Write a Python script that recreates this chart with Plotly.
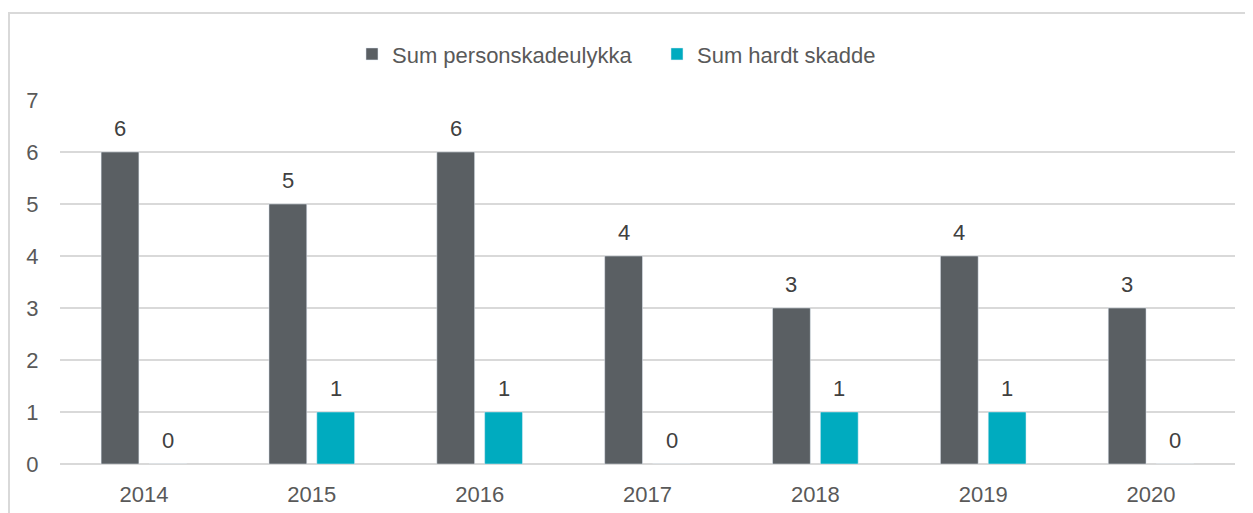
import plotly.graph_objects as go

years = ["2014", "2015", "2016", "2017", "2018", "2019", "2020"]
personskade = [6, 5, 6, 4, 3, 4, 3]
hardt_skadde = [0, 1, 1, 0, 1, 1, 0]

FONT = "Liberation Sans, Arial, sans-serif"
TEXT_COLOR = "#595959"
LABEL_COLOR = "#404040"

fig = go.Figure()

fig.add_trace(go.Bar(
    x=years, y=personskade,
    name="Sum personskadeulykka",
    marker_color="#5a5f63",
))
fig.add_trace(go.Bar(
    x=years, y=hardt_skadde,
    name="Sum hardt skadde",
    marker_color="#00abbf",
))

# value labels above each bar (shifted left/right onto their bar in the group)
# numeric-looking year strings would be read as category indices, so use the index
for values, shift in [(personskade, -24), (hardt_skadde, 24)]:
    for i, v in enumerate(values):
        fig.add_annotation(
            x=i, y=v, text=str(v), showarrow=False,
            xshift=shift, yshift=9, yanchor="bottom",
            font=dict(family=FONT, size=22, color=LABEL_COLOR),
        )

# light grey frame around the chart, as in the original export
fig.add_shape(
    type="rect", xref="paper", yref="paper",
    x0=-0.0434, x1=1.03, y0=-0.16, y1=1.239,
    line=dict(color="#d9d9d9", width=2), fillcolor="rgba(0,0,0,0)",
    layer="below",
)

# page body keeps its default 8px margin, so the figure is 8px smaller
fig.update_layout(
    width=1245, height=505,
    margin=dict(l=52, r=18, t=92, b=49),
    paper_bgcolor="white", plot_bgcolor="white",
    font=dict(family=FONT, size=22, color=TEXT_COLOR),
    barmode="group", bargap=0.43, bargroupgap=0.21,
    showlegend=True,
    legend=dict(
        orientation="h", x=0.2485, xanchor="left", y=1.126, yanchor="middle",
        font=dict(size=22, color=TEXT_COLOR), itemwidth=30, entrywidth=260,
        traceorder="normal",
    ),
    xaxis=dict(
        type="category", range=[-0.5, len(years) - 0.5], automargin=False,
        showgrid=False, showline=False, ticks="outside", ticklen=11,
        tickcolor="rgba(0,0,0,0)", tickfont=dict(size=22, color=TEXT_COLOR),
    ),
    yaxis=dict(
        range=[0, 7], dtick=1, automargin=False,
        showgrid=True, gridcolor="#d9d9d9", gridwidth=1.5,
        zeroline=True, zerolinecolor="#d9d9d9", zerolinewidth=1.5,
        ticks="outside", ticklen=16, tickcolor="rgba(0,0,0,0)",
        tickfont=dict(size=22, color=TEXT_COLOR),
    ),
)

fig.write_html("out.html", config={"displayModeBar": False})
